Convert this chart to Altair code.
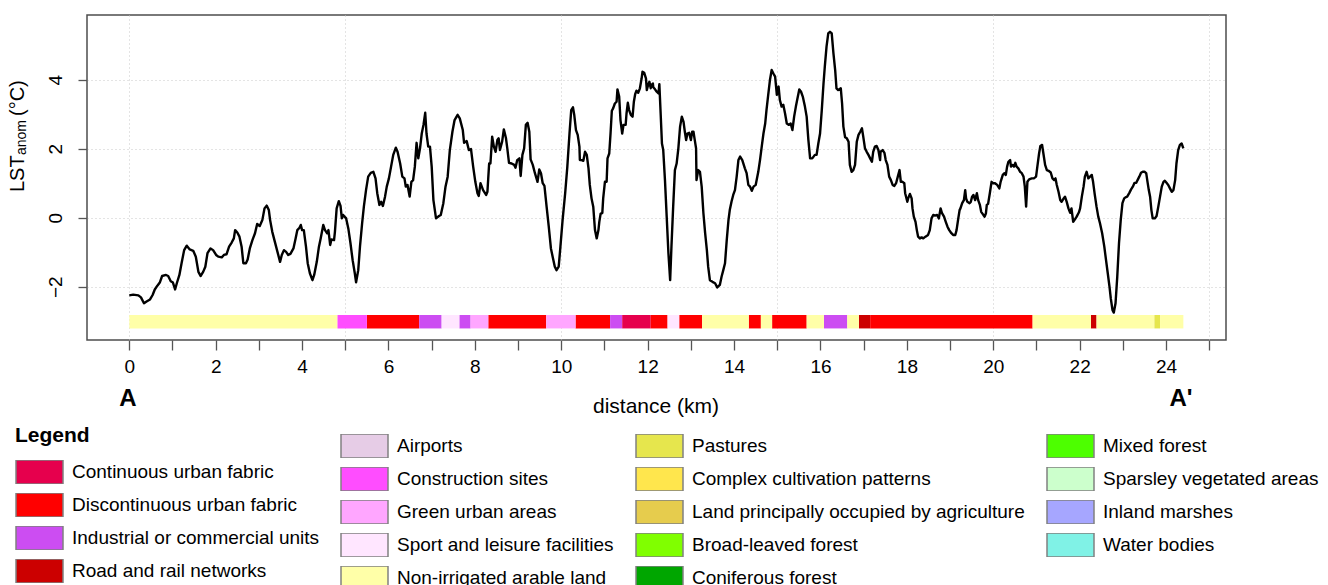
import altair as alt
import pandas as pd

# LST anomaly along the A-A' transect: (distance in km, anomaly in degC)
profile_west = [
    (0.00, -2.25), (0.09, -2.23), (0.21, -2.25), (0.27, -2.31), (0.34, -2.48), (0.40, -2.43),
    (0.48, -2.37), (0.54, -2.24), (0.59, -2.08), (0.65, -1.97), (0.71, -1.87), (0.76, -1.69),
    (0.85, -1.66), (0.90, -1.69), (0.96, -1.84), (1.01, -1.88), (1.06, -2.08), (1.10, -1.90),
    (1.16, -1.66), (1.21, -1.32), (1.27, -0.94), (1.33, -0.81), (1.40, -0.92), (1.48, -0.96),
    (1.54, -1.13), (1.60, -1.57), (1.65, -1.69), (1.71, -1.57), (1.76, -1.42), (1.81, -1.03),
    (1.88, -0.89), (1.94, -0.94), (2.01, -1.08), (2.06, -1.13), (2.14, -1.15), (2.19, -1.08),
    (2.25, -1.06), (2.31, -0.84), (2.37, -0.72), (2.42, -0.60), (2.45, -0.36), (2.50, -0.43),
    (2.55, -0.55), (2.60, -0.84), (2.64, -1.32), (2.70, -1.32), (2.74, -1.21), (2.79, -0.89),
    (2.85, -0.65), (2.91, -0.45), (2.96, -0.18), (3.02, -0.24), (3.08, -0.07), (3.13, 0.27),
    (3.18, 0.35), (3.23, 0.22), (3.26, -0.07), (3.31, -0.41), (3.37, -0.70), (3.43, -0.99),
    (3.49, -1.28), (3.53, -1.08), (3.58, -0.94), (3.63, -0.99), (3.68, -1.08), (3.73, -1.05),
    (3.80, -0.89), (3.85, -0.60), (3.89, -0.36), (3.94, -0.29), (3.97, -0.21), (4.00, -0.36),
    (4.04, -0.36), (4.09, -0.84), (4.13, -1.32), (4.18, -1.61), (4.24, -1.81), (4.28, -1.66),
    (4.34, -1.28), (4.39, -0.84), (4.43, -0.60), (4.49, -0.21), (4.53, -0.36), (4.58, -0.45),
    (4.61, -0.36), (4.65, -0.79), (4.68, -0.63), (4.74, -0.65), (4.76, -0.41), (4.80, 0.27),
    (4.85, 0.48), (4.89, 0.34), (4.92, -0.02), (4.95, 0.08), (5.02, -0.02), (5.07, -0.31),
    (5.12, -0.74), (5.17, -1.23), (5.22, -1.61), (5.25, -1.87), (5.30, -1.52), (5.34, -0.84),
    (5.39, -0.16), (5.43, 0.32), (5.48, 0.80), (5.53, 1.19), (5.59, 1.30), (5.65, 1.33),
    (5.70, 1.14), (5.74, 0.71), (5.79, 0.37), (5.83, 0.46), (5.87, 0.34), (5.92, 0.61),
    (5.96, 0.90), (6.01, 1.14), (6.06, 1.48), (6.11, 1.82), (6.17, 2.03), (6.21, 1.91),
    (6.27, 1.57), (6.32, 1.19), (6.37, 1.14), (6.40, 0.90), (6.44, 0.95), (6.49, 0.61),
    (6.53, 1.04), (6.57, 1.09), (6.61, 1.48), (6.65, 2.17), (6.69, 1.72), (6.73, 2.01),
    (6.77, 2.44), (6.81, 2.69), (6.85, 3.04), (6.88, 2.44), (6.92, 2.06), (6.96, 2.06),
    (7.00, 1.48), (7.04, 0.51), (7.10, -0.02), (7.17, 0.05), (7.21, 0.08), (7.27, 0.42),
    (7.32, 0.90), (7.37, 1.19), (7.42, 1.96), (7.48, 2.49), (7.53, 2.83), (7.60, 2.98),
    (7.65, 2.88), (7.72, 2.54), (7.75, 2.17), (7.81, 2.22), (7.86, 1.96), (7.91, 1.99),
    (7.96, 1.48), (8.01, 1.04), (8.06, 0.71), (8.09, 0.63), (8.13, 1.00), (8.19, 0.80),
    (8.26, 0.66), (8.29, 0.75), (8.33, 1.57), (8.36, 1.57), (8.40, 2.35), (8.44, 2.06),
    (8.48, 1.91), (8.52, 2.25), (8.55, 2.30), (8.58, 1.96),
]

profile_centre = [
    (8.63, 2.20), (8.67, 2.56), (8.72, 2.30), (8.75, 2.01), (8.79, 1.59), (8.85, 1.57),
    (8.91, 1.53), (8.94, 1.45), (8.98, 1.67), (9.03, 1.72), (9.06, 1.21), (9.10, 1.82),
    (9.14, 2.01), (9.18, 2.69), (9.22, 2.75), (9.26, 2.49), (9.29, 1.69), (9.34, 1.53),
    (9.39, 1.29), (9.45, 1.04), (9.49, 1.40), (9.53, 1.29), (9.57, 1.00), (9.61, 0.92),
    (9.66, 0.32), (9.71, -0.26), (9.76, -0.89), (9.80, -1.13), (9.85, -1.42), (9.89, -1.52),
    (9.94, -1.42), (9.98, -0.84), (10.03, -0.07), (10.09, 0.71), (10.14, 1.48), (10.19, 2.44),
    (10.23, 3.12), (10.27, 3.20), (10.30, 2.98), (10.34, 2.54), (10.38, 2.40), (10.42, 2.06),
    (10.43, 1.67), (10.47, 1.67), (10.51, 1.65), (10.55, 1.91), (10.59, 1.82), (10.63, 1.43),
    (10.66, 0.95), (10.70, 0.56), (10.74, 0.32), (10.78, -0.36), (10.82, -0.60), (10.86, -0.36),
    (10.88, -0.12), (10.91, 0.11), (10.95, 0.14), (10.97, 0.56), (11.01, 1.04), (11.05, 1.04),
    (11.07, 1.72), (11.11, 1.86), (11.14, 2.44), (11.17, 3.10), (11.20, 3.17), (11.24, 3.31),
    (11.28, 3.36), (11.30, 3.72), (11.34, 3.51), (11.37, 2.83), (11.41, 2.44), (11.44, 2.69),
    (11.49, 2.69), (11.51, 3.02), (11.54, 3.33), (11.57, 3.12), (11.61, 2.98), (11.65, 2.93),
    (11.68, 3.36), (11.71, 3.58), (11.74, 3.68), (11.78, 3.62), (11.82, 3.75), (11.86, 4.04),
    (11.88, 4.23), (11.92, 4.20), (11.96, 4.04), (11.98, 3.70), (12.01, 3.85), (12.04, 3.94),
    (12.07, 3.75), (12.09, 3.85), (12.12, 3.89), (12.13, 3.78), (12.17, 3.72), (12.21, 3.65),
    (12.25, 3.60), (12.27, 3.87), (12.30, 3.02), (12.33, 2.15), (12.36, 1.96), (12.40, 1.09),
    (12.44, 0.03), (12.48, -1.03), (12.52, -1.81), (12.55, -0.84), (12.59, 0.32), (12.63, 1.38),
    (12.67, 1.57), (12.71, 2.01), (12.75, 2.64), (12.79, 2.93), (12.83, 2.78), (12.86, 2.49),
    (12.89, 2.25), (12.92, 2.44), (12.96, 2.46), (13.00, 2.25), (13.03, 2.49), (13.06, 2.49),
    (13.09, 2.25), (13.12, 2.01), (13.13, 1.09), (13.17, 1.38), (13.21, 1.33), (13.25, 0.90),
    (13.29, 0.13), (13.33, -0.45), (13.37, -0.94), (13.40, -1.42), (13.44, -1.81), (13.50, -1.86),
    (13.56, -1.90), (13.61, -2.02), (13.67, -1.95), (13.71, -1.71), (13.75, -1.52), (13.79, -1.32),
    (13.83, -0.65), (13.87, -0.07), (13.90, 0.22), (13.94, 0.46), (13.98, 0.66), (14.02, 0.80),
    (14.06, 1.19), (14.10, 1.67), (14.14, 1.77), (14.19, 1.67), (14.25, 1.43), (14.29, 1.29),
    (14.33, 0.95), (14.37, 0.90), (14.41, 0.78), (14.45, 0.90), (14.50, 0.95), (14.56, 1.33),
    (14.60, 1.67), (14.64, 2.06), (14.68, 2.44), (14.72, 2.73), (14.75, 3.12), (14.79, 3.56),
    (14.83, 3.99), (14.87, 4.28), (14.91, 4.18), (14.95, 4.09), (14.99, 3.56), (15.03, 3.80),
    (15.06, 3.41), (15.10, 3.22), (15.14, 3.27), (15.18, 3.02), (15.22, 2.73), (15.27, 2.69),
    (15.31, 2.73), (15.35, 2.54), (15.39, 2.93), (15.43, 3.22), (15.46, 3.41), (15.51, 3.72),
    (15.55, 3.65), (15.59, 3.51), (15.64, 3.22), (15.68, 2.93), (15.72, 2.25), (15.76, 1.72),
    (15.81, 1.72), (15.87, 1.82), (15.91, 1.82), (15.95, 2.15), (15.99, 2.44), (16.03, 3.12),
    (16.07, 3.89), (16.10, 4.38), (16.14, 4.96), (16.18, 5.34), (16.22, 5.39), (16.26, 5.34),
    (16.30, 4.76), (16.34, 4.28), (16.37, 3.75), (16.41, 3.70), (16.47, 3.75), (16.50, 3.31),
    (16.53, 2.64), (16.57, 2.33), (16.61, 2.30), (16.65, 2.20), (16.68, 1.53), (16.72, 1.33),
    (16.76, 1.38), (16.80, 1.53), (16.84, 2.20), (16.88, 2.40), (16.92, 2.49), (16.96, 2.59),
    (16.99, 2.35), (17.03, 2.01), (17.07, 1.91), (17.11, 1.82), (17.15, 1.72), (17.19, 1.62),
    (17.22, 1.91), (17.26, 2.06), (17.30, 2.08), (17.34, 1.96), (17.38, 1.67),
]

profile_east = [
    (17.39, 1.91), (17.44, 1.96), (17.48, 1.88), (17.51, 1.67), (17.55, 1.53), (17.59, 1.19),
    (17.63, 1.09), (17.67, 0.95), (17.71, 0.92), (17.75, 1.00), (17.79, 1.19), (17.83, 1.38),
    (17.86, 1.04), (17.90, 1.04), (17.94, 1.00), (17.96, 0.71), (18.01, 0.46), (18.03, 0.56),
    (18.07, 0.69), (18.11, 0.56), (18.13, 0.27), (18.16, 0.03), (18.20, -0.12), (18.23, -0.36),
    (18.26, -0.55), (18.30, -0.60), (18.34, -0.57), (18.38, -0.60), (18.43, -0.55), (18.49, -0.50),
    (18.53, -0.36), (18.57, -0.02), (18.61, 0.08), (18.65, 0.06), (18.70, 0.08), (18.74, -0.02),
    (18.78, 0.27), (18.81, 0.14), (18.86, 0.03), (18.90, -0.12), (18.94, -0.26), (18.98, -0.36),
    (19.03, -0.45), (19.07, -0.50), (19.12, -0.50), (19.15, -0.36), (19.19, -0.02), (19.22, 0.22),
    (19.24, 0.27), (19.28, 0.42), (19.32, 0.51), (19.35, 0.80), (19.37, 0.56), (19.40, 0.46),
    (19.45, 0.42), (19.48, 0.46), (19.51, 0.61), (19.54, 0.66), (19.58, 0.51), (19.62, 0.71),
    (19.65, 0.51), (19.69, 0.37), (19.72, 0.17), (19.77, 0.08), (19.80, 0.03), (19.83, 0.13),
    (19.85, 0.37), (19.88, 0.40), (19.92, 0.71), (19.96, 1.04), (20.00, 1.00), (20.04, 1.00),
    (20.09, 0.95), (20.14, 0.85), (20.17, 1.04), (20.22, 1.24), (20.26, 1.29), (20.29, 1.24),
    (20.32, 1.48), (20.35, 1.62), (20.39, 1.67), (20.41, 1.48), (20.45, 1.53), (20.48, 1.48),
    (20.51, 1.59), (20.54, 1.48), (20.58, 1.43), (20.62, 1.33), (20.66, 1.29), (20.70, 1.19),
    (20.73, 0.90), (20.76, 0.32), (20.79, 1.04), (20.83, 1.11), (20.89, 1.14), (20.94, 1.14),
    (20.99, 1.19), (21.02, 1.48), (21.06, 1.86), (21.09, 2.08), (21.13, 2.11), (21.16, 1.86),
    (21.20, 1.53), (21.24, 1.38), (21.28, 1.36), (21.33, 1.31), (21.37, 1.14), (21.41, 1.09),
    (21.44, 1.14), (21.47, 0.95), (21.51, 0.75), (21.55, 0.51), (21.58, 0.46), (21.62, 0.54),
    (21.66, 0.61), (21.70, 0.46), (21.74, 0.27), (21.78, 0.14), (21.81, 0.27), (21.85, -0.12),
    (21.89, -0.05), (21.93, 0.03), (21.98, 0.15), (22.01, 0.27), (22.05, 0.61), (22.09, 0.90),
    (22.12, 1.19), (22.16, 1.33), (22.20, 1.14), (22.24, 1.19), (22.28, 1.24), (22.31, 1.04),
    (22.35, 0.66), (22.39, 0.32), (22.43, 0.03), (22.47, -0.16), (22.52, -0.45), (22.57, -0.84),
    (22.61, -1.23), (22.65, -1.61), (22.69, -2.00), (22.72, -2.34), (22.76, -2.68), (22.79, -2.75),
    (22.83, -2.48), (22.87, -1.71), (22.91, -0.74), (22.95, -0.07), (22.99, 0.42), (23.03, 0.56),
    (23.06, 0.59), (23.10, 0.61), (23.15, 0.72), (23.19, 0.82), (23.23, 0.90), (23.27, 1.01),
    (23.31, 1.01), (23.34, 1.09), (23.38, 1.19), (23.42, 1.30), (23.46, 1.33), (23.50, 1.33),
    (23.54, 1.29), (23.57, 1.04), (23.60, 0.80), (23.63, 0.61), (23.66, 0.22), (23.69, -0.02),
    (23.74, -0.02), (23.78, 0.05), (23.82, 0.32), (23.86, 0.61), (23.90, 0.90), (23.94, 1.04),
    (23.97, 1.07), (24.01, 1.01), (24.05, 0.95), (24.09, 0.85), (24.13, 0.75), (24.17, 0.80),
    (24.21, 1.09), (24.24, 1.57), (24.28, 1.96), (24.32, 2.11), (24.36, 2.15), (24.40, 2.01),
]

# CORINE land cover crossed by the transect: (from km, to km, class)
cover_segments = [
    (0.00, 4.82, "Non-irrigated arable land"),
    (4.82, 5.50, "Construction sites"),
    (5.50, 6.71, "Discontinuous urban fabric"),
    (6.71, 7.23, "Industrial or commercial units"),
    (7.23, 7.64, "Sport and leisure facilities"),
    (7.64, 7.90, "Industrial or commercial units"),
    (7.90, 8.31, "Green urban areas"),
    (8.31, 9.65, "Discontinuous urban fabric"),
    (9.65, 10.33, "Green urban areas"),
    (10.33, 11.13, "Discontinuous urban fabric"),
    (11.13, 11.41, "Industrial or commercial units"),
    (11.41, 12.07, "Continuous urban fabric"),
    (12.07, 12.46, "Discontinuous urban fabric"),
    (12.46, 12.73, "Sport and leisure facilities"),
    (12.73, 13.26, "Discontinuous urban fabric"),
    (13.26, 14.34, "Non-irrigated arable land"),
    (14.34, 14.62, "Discontinuous urban fabric"),
    (14.62, 14.88, "Non-irrigated arable land"),
    (14.88, 15.68, "Discontinuous urban fabric"),
    (15.68, 16.08, "Non-irrigated arable land"),
    (16.08, 16.62, "Industrial or commercial units"),
    (16.62, 16.89, "Non-irrigated arable land"),
    (16.89, 17.15, "Road and rail networks"),
    (17.15, 20.91, "Discontinuous urban fabric"),
    (20.91, 22.26, "Non-irrigated arable land"),
    (22.26, 22.39, "Road and rail networks"),
    (22.39, 23.73, "Non-irrigated arable land"),
    (23.73, 23.86, "Pastures"),
    (23.86, 24.40, "Non-irrigated arable land"),
]

urban_classes = [
    "Continuous urban fabric",
    "Discontinuous urban fabric",
    "Industrial or commercial units",
    "Road and rail networks",
]
urban_colors = ["#E6004D", "#FF0000", "#CC4DF2", "#CC0000"]

# legend entries fill each column top to bottom, then the next column
other_classes = [
    "Airports", "Construction sites", "Green urban areas",
    "Sport and leisure facilities", "Non-irrigated arable land",
    "Pastures", "Complex cultivation patterns", "Land principally occupied by agriculture",
    "Broad-leaved forest", "Coniferous forest",
    "Mixed forest", "Sparsley vegetated areas", "Inland marshes", "Water bodies",
]
other_colors = [
    "#E6CCE6", "#FF4DFF", "#FFA6FF", "#FFE6FF", "#FFFFA8",
    "#E6E64D", "#FFE64D", "#E6CC4D", "#80FF00", "#00A600",
    "#4DFF00", "#CCFFCC", "#A6A6FF", "#80F2E6",
]

x_ticks = list(range(0, 26))
y_ticks = [-2, 0, 2, 4]

FONT = "Liberation Sans"
W, H = 1139, 325

profile = pd.DataFrame(profile_west + profile_centre + profile_east, columns=["km", "lst"])
cover = pd.DataFrame(cover_segments, columns=["start", "end", "cover"])
cover_urban = cover[cover["cover"].isin(urban_classes)]
cover_other = cover[~cover["cover"].isin(urban_classes)]

x_scale = alt.Scale(domain=[-0.979, 25.387], nice=False, zero=False)
y_scale = alt.Scale(domain=[-3.545, 5.875], nice=False, zero=False)

x_axis = alt.Axis(
    values=x_ticks, title=None, domain=False,
    labelExpr="datum.value % 2 == 0 ? datum.label : ''",
    tickSize=10, tickColor="#555555", tickWidth=1.3,
    labelFont=FONT, labelFontSize=19, labelColor="black", labelPadding=7,
    labelFlush=False, labelOverlap=False,
    grid=True, gridColor="#c8c8c8", gridDash=[1, 3], gridWidth=1,
    gridOpacity={"condition": {"test": "datum.value % 5 === 0", "value": 1}, "value": 0},
)
y_axis = alt.Axis(
    values=y_ticks, title=None, domain=False,
    tickSize=9, tickColor="#555555", tickWidth=1.3,
    labelAngle=270, labelAlign="center", labelBaseline="bottom", labelPadding=13,
    labelFont=FONT, labelFontSize=19, labelColor="black",
    grid=True, gridColor="#c8c8c8", gridDash=[1, 3], gridWidth=1,
)

RECT_SYMBOL = "M-1,-0.51H1V0.51H-1Z"
legend_style = dict(
    orient="none", symbolType=RECT_SYMBOL, symbolSize=2209,
    symbolStrokeColor="#808080", symbolStrokeWidth=1.5,
    labelFont=FONT, labelFontSize=19, labelColor="black", labelOffset=8, labelLimit=0,
    clipHeight=24, rowPadding=9, padding=0,
)
legend_urban = alt.Legend(
    title="Legend", titleFont=FONT, titleFontSize=21, titleFontWeight="bold",
    titleColor="black", titlePadding=14, titleAnchor="start",
    legendX=-72, legendY=410, columns=1, **legend_style,
)
legend_other = alt.Legend(
    title=None, legendX=253, legendY=419, columns=3, columnPadding=21, **legend_style,
)

band_top, band_bottom = -2.82, -3.21

urban_band = alt.Chart(cover_urban).mark_rect().encode(
    x=alt.X("start:Q", scale=x_scale, axis=x_axis),
    x2="end:Q",
    y=alt.YDatum(band_top, scale=y_scale),
    y2=alt.datum(band_bottom),
    color=alt.Color("cover:N", scale=alt.Scale(domain=urban_classes, range=urban_colors),
                    legend=legend_urban),
)
other_band = alt.Chart(cover_other).mark_rect().encode(
    x=alt.X("start:Q", scale=x_scale, axis=x_axis),
    x2="end:Q",
    y=alt.YDatum(band_top, scale=y_scale),
    y2=alt.datum(band_bottom),
    color=alt.Color("cover:N", scale=alt.Scale(domain=other_classes, range=other_colors),
                    legend=legend_other),
)

line = alt.Chart(profile).mark_line(color="black", strokeWidth=2.4, strokeJoin="round").encode(
    x=alt.X("km:Q", scale=x_scale, axis=x_axis),
    y=alt.Y("lst:Q", scale=y_scale, axis=y_axis),
)

one_row = pd.DataFrame({"k": [0]})


def label(text, x, y, size, weight="normal", angle=0, align="center", baseline="middle"):
    return alt.Chart(one_row).mark_text(
        font=FONT, fontSize=size, fontWeight=weight, angle=angle,
        align=align, baseline=baseline, color="black",
    ).encode(x=alt.value(x), y=alt.value(y), text=alt.value(text))


texts = [
    label("distance (km)", 569, 392, 21),
    label("A", 41, 384, 24, weight="bold"),
    label("A'", 1094, 384, 24, weight="bold"),
    label("LST", -63, 177, 20, angle=270, align="left", baseline="alphabetic"),
    label("anom", -61, 140, 14, angle=270, align="left", baseline="alphabetic"),
    label("(\u00b0C)", -63, 101, 20, angle=270, align="left", baseline="alphabetic"),
]

chart = alt.layer(urban_band, other_band, line, *texts).resolve_scale(
    color="independent"
).resolve_legend(color="independent").properties(
    width=W, height=H,
    autosize=alt.AutoSizeParams(type="none"),
    padding={"left": 87, "top": 15, "right": 102, "bottom": 245},
).configure_view(stroke="#4d4d4d", strokeWidth=1.5)

chart.save("out.html", embed_options={"renderer": "svg", "actions": False})
